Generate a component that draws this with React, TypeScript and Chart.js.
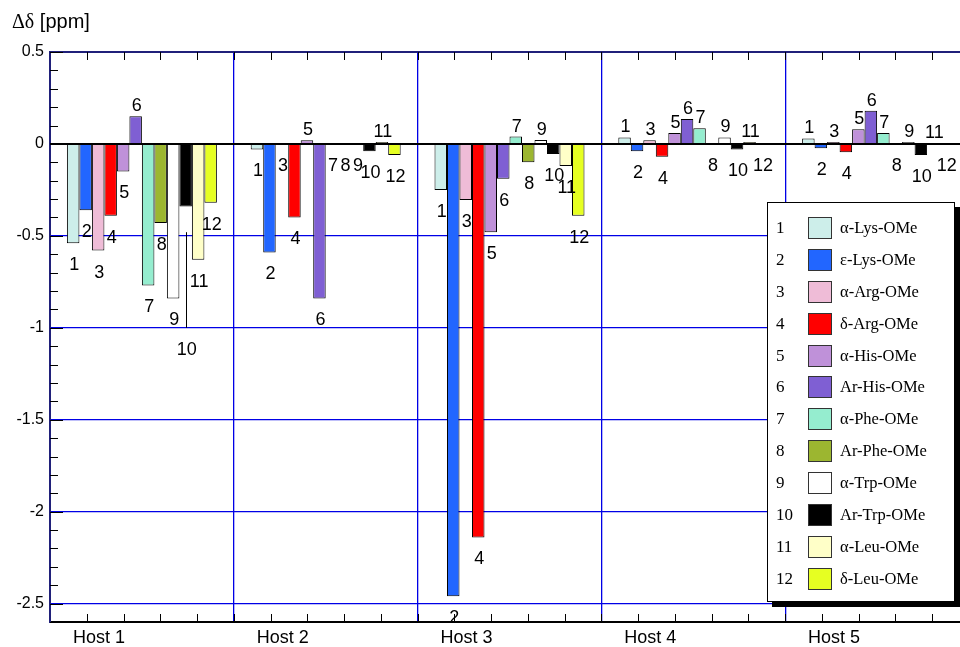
import React, { useEffect, useRef } from 'react';
import { Chart, registerables } from 'chart.js';

Chart.register(...registerables);

// ---------- data ----------
const hosts = ['Host 1', 'Host 2', 'Host 3', 'Host 4', 'Host 5'];
const compoundNames = [
  'α-Lys-OMe', 'ε-Lys-OMe', 'α-Arg-OMe', 'δ-Arg-OMe', 'α-His-OMe', 'Ar-His-OMe',
  'α-Phe-OMe', 'Ar-Phe-OMe', 'α-Trp-OMe', 'Ar-Trp-OMe', 'α-Leu-OMe', 'δ-Leu-OMe',
];
// Δδ [ppm] per host (Host 1..5)
const alphaLys = [-0.54, -0.03, -0.25, 0.035, 0.03];
const epsLys = [-0.36, -0.59, -2.46, -0.04, -0.023];
const alphaArg = [-0.58, 0, -0.305, 0.02, 0.01];
const deltaArg = [-0.39, -0.4, -2.14, -0.07, -0.045];
const alphaHis = [-0.15, 0.02, -0.48, 0.06, 0.08];
const arHis = [0.15, -0.84, -0.19, 0.135, 0.18];
const alphaPhe = [-0.77, 0, 0.04, 0.085, 0.06];
const arPhe = [-0.43, 0, -0.1, 0, 0];
const alphaTrp = [-0.84, 0, 0.022, 0.035, 0.01];
const arTrp = [-0.34, -0.04, -0.055, -0.03, -0.06];
const alphaLeu = [-0.63, 0.01, -0.12, 0.01, 0.005];
const deltaLeu = [-0.32, -0.06, -0.39, 0, 0];
// thin line drawn under Ar-Trp-OMe in Host 1
const arTrpHost1Line = [-0.48, -1.0];
const yTicks = [0.5, 0, -0.5, -1, -1.5, -2, -2.5];

const seriesValues = [alphaLys, epsLys, alphaArg, deltaArg, alphaHis, arHis, alphaPhe, arPhe, alphaTrp, arTrp, alphaLeu, deltaLeu];
const seriesColors = [
  '#cdeeea', '#2266ff', '#efbcd7', '#ff0000', '#bf91d9', '#7f5fd3',
  '#95edcf', '#9cb630', '#ffffff', '#000000', '#ffffc8', '#e6ff22',
];

const SANS = '"Liberation Sans", Arial, Helvetica, sans-serif';
const SERIF = '"Liberation Serif", "Times New Roman", Times, serif';
const BLUE = '#0000e6';
const NAVY = '#20207a';

const decorPlugin = {
  id: 'decor',
  afterDatasetsDraw(chart: any) {
    const { ctx, chartArea: a } = chart;
    const y = chart.scales.y;
    ctx.save();
    // zero line
    const y0 = Math.round(y.getPixelForValue(0));
    ctx.strokeStyle = '#000';
    ctx.lineWidth = 2;
    ctx.beginPath();
    ctx.moveTo(a.left, y0);
    ctx.lineTo(a.right, y0);
    ctx.stroke();

    // thin line under Ar-Trp-OMe (Host 1)
    const el10 = chart.getDatasetMeta(9).data[0];
    if (el10) {
      const lx = Math.round(el10.x) + 0.5;
      ctx.lineWidth = 1;
      ctx.beginPath();
      ctx.moveTo(lx, y.getPixelForValue(arTrpHost1Line[0]));
      ctx.lineTo(lx, y.getPixelForValue(arTrpHost1Line[1]));
      ctx.stroke();
    }

    // inward tick marks
    ctx.lineWidth = 1;
    ctx.beginPath();
    const n = hosts.length * 5;
    const step = (a.right - a.left) / n;
    for (let j = 1; j < n; j++) {
      const px = Math.round(a.left + j * step) + 0.5;
      ctx.moveTo(px, a.top);
      ctx.lineTo(px, a.top + 8);
      ctx.moveTo(px, a.bottom);
      ctx.lineTo(px, a.bottom - 8);
    }
    for (let k = -26; k <= 5; k++) {
      const py = Math.round(y.getPixelForValue(k / 10)) + 0.5;
      const len = k % 5 === 0 ? 13 : 8;
      ctx.moveTo(a.left, py);
      ctx.lineTo(a.left + len, py);
    }
    ctx.stroke();

    // bar number labels
    ctx.fillStyle = '#000';
    ctx.font = '18px ' + SANS;
    ctx.textAlign = 'center';
    ctx.textBaseline = 'middle';
    chart.data.datasets.forEach((ds: any, i: number) => {
      const meta = chart.getDatasetMeta(i);
      meta.data.forEach((el: any, j: number) => {
        const v = ds.data[j];
        let end = v;
        if (i === 9 && j === 0) end = Math.min(v, ...arTrpHost1Line);
        const py = y.getPixelForValue(end);
        const ty = v > 0 ? py - 10 : py + 22;
        ctx.fillText(String(i + 1), el.x + 1, ty);
      });
    });
    ctx.restore();
  },
};

export default function App() {
  const canvasRef = useRef<HTMLCanvasElement | null>(null);

  useEffect(() => {
    const canvas = canvasRef.current;
    if (!canvas) return;
    const chart = new Chart(canvas, {
      type: 'bar',
      data: {
        labels: hosts,
        datasets: seriesValues.map((vals, i) => ({
          label: compoundNames[i],
          data: vals,
          backgroundColor: seriesColors[i],
          borderColor: '#000',
          borderWidth: 1,
          borderSkipped: 'start',
          categoryPercentage: 0.816,
          barPercentage: 1,
        })),
      },
      options: {
        responsive: false,
        animation: false,
        devicePixelRatio: 1,
        layout: { padding: { top: 52, right: 11, left: 0, bottom: 0 } },
        plugins: {
          legend: { display: false },
          title: { display: false },
          tooltip: { enabled: false },
        },
        scales: {
          x: {
            type: 'category',
            offset: true,
            grid: { color: BLUE, lineWidth: 1.3, drawTicks: false, offset: true },
            border: { color: '#000', width: 2 },
            ticks: {
              font: { family: SANS, size: 18 },
              color: '#000',
              labelOffset: -43,
              padding: 5,
              maxRotation: 0,
              autoSkip: false,
            },
            afterFit: (s: any) => {
              s.height = 25;
              s.paddingLeft = 0;
              s.paddingRight = 0;
            },
          },
          y: {
            type: 'linear',
            min: -2.6,
            max: 0.5,
            afterBuildTicks: (s: any) => {
              s.ticks = yTicks.map((value) => ({ value }));
            },
            grid: {
              color: (c: any) =>
                c.tick && c.tick.value === 0 ? 'rgba(0,0,0,0)' : c.tick && c.tick.value === 0.5 ? NAVY : BLUE,
              lineWidth: (c: any) => (c.tick && c.tick.value === 0.5 ? 2 : 1.3),
              drawTicks: false,
            },
            border: { color: NAVY, width: 2 },
            ticks: {
              callback: (v: any) => String(v),
              font: { family: SANS, size: 16 },
              color: '#000',
              padding: 6,
            },
            afterFit: (s: any) => {
              s.width = 50;
              s.paddingTop = 0;
              s.paddingBottom = 0;
            },
          },
        },
      },
      plugins: [decorPlugin],
    } as any);
    return () => chart.destroy();
  }, []);

  return (
    <div style={{ position: 'absolute', left: 0, top: 0, width: 960, height: 647, overflow: 'hidden', background: '#fff' }}>
      <canvas ref={canvasRef} width={980} height={647} style={{ position: 'absolute', left: 0, top: 0, width: 980, height: 647 }} />
      <div style={{ position: 'absolute', left: 12, top: 10, fontFamily: SANS, fontSize: 20, color: '#000', whiteSpace: 'nowrap' }}>
        <span style={{ fontFamily: SERIF }}>Δδ</span> [ppm]
      </div>
      <div
        style={{
          position: 'absolute',
          left: 767,
          top: 202,
          width: 188,
          height: 400,
          boxSizing: 'border-box',
          border: '1px solid #000',
          background: '#fff',
          boxShadow: '5px 5px 0 #000',
          paddingTop: 9,
        }}
      >
        {compoundNames.map((name, i) => (
          <div key={name} style={{ position: 'relative', height: 31.9 }}>
            <span style={{ position: 'absolute', left: 8, top: 6, fontFamily: SERIF, fontSize: 17, lineHeight: '20px' }}>{i + 1}</span>
            <span
              style={{
                position: 'absolute',
                left: 40,
                top: 5,
                width: 24,
                height: 22,
                boxSizing: 'border-box',
                border: '1px solid #333',
                background: seriesColors[i],
              }}
            />
            <span style={{ position: 'absolute', left: 72, top: 6, fontFamily: SERIF, fontSize: 16.5, lineHeight: '20px', whiteSpace: 'nowrap' }}>{name}</span>
          </div>
        ))}
      </div>
    </div>
  );
}
